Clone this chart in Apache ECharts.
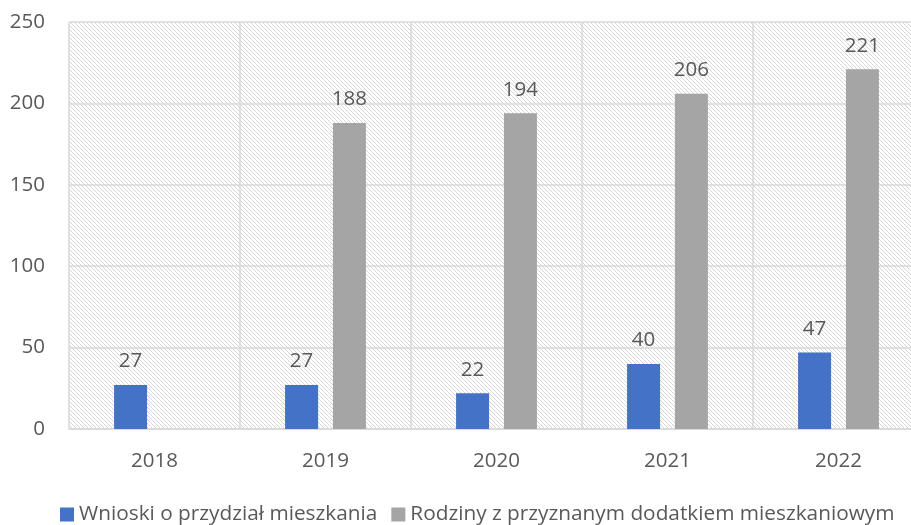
<!DOCTYPE html>
<html>
<head>
<meta charset="utf-8">
<script src="https://cdn.jsdelivr.net/npm/echarts@6/dist/echarts.min.js"></script>
<style>
  html, body { margin: 0; padding: 0; background: #fff; }
  #chart { width: 911px; height: 525px; }
</style>
</head>
<body>
<div id="chart"></div>
<script>
var years = ['2018', '2019', '2020', '2021', '2022'];
var wnioski = [27, 27, 22, 40, 47];
var rodziny = [null, 188, 194, 206, 221];
var seriesNames = ['Wnioski o przydział mieszkania', 'Rodziny z przyznanym dodatkiem mieszkaniowym'];

// hatch pattern for plot background ("\" diagonals)
var hatch = document.createElement('canvas');
hatch.width = 4;
hatch.height = 4;
var hctx = hatch.getContext('2d');
hctx.fillStyle = '#ffffff';
hctx.fillRect(0, 0, 4, 4);
hctx.fillStyle = '#d6d6d6';
for (var i = 0; i < 4; i++) {
    hctx.fillRect(i, i, 1, 1);
}

var myChart = echarts.init(document.getElementById('chart'));
var textColor = '#595959';
var fontFam = '"Open Sans", "Liberation Sans", sans-serif';
var fs = 20.5;

var option = {
    textStyle: { fontFamily: fontFam },
    color: ['#4472c4', '#a5a5a5'],
    legend: {
        top: 499,
        left: 55,
        itemWidth: 14,
        itemHeight: 14,
        itemGap: 14,
        icon: 'rect',
        textStyle: { color: textColor, fontSize: 20.8, fontFamily: fontFam },
        data: seriesNames
    },
    grid: {
        left: 69,
        width: 855,
        top: 22,
        bottom: 96,
        outerBoundsMode: 'none',
        show: true,
        borderWidth: 0,
        backgroundColor: { image: hatch, repeat: 'repeat' }
    },
    xAxis: {
        type: 'category',
        data: years,
        axisLine: { lineStyle: { color: '#d9d9d9', width: 1.5 } },
        axisTick: { show: false },
        splitLine: { show: true, lineStyle: { color: '#d9d9d9', width: 1.5 } },
        axisLabel: { color: textColor, fontSize: fs, margin: 22, fontFamily: fontFam }
    },
    yAxis: {
        type: 'value',
        min: 0,
        max: 250,
        interval: 50,
        axisLine: { show: false },
        axisTick: { show: false },
        splitLine: { lineStyle: { color: '#d9d9d9', width: 1.5 } },
        axisLabel: { color: textColor, fontSize: fs, margin: 24, fontFamily: fontFam }
    },
    series: [
        {
            name: seriesNames[0],
            type: 'bar',
            data: wnioski,
            barWidth: 33,
            barGap: '45%',
            label: { show: true, position: 'top', distance: 13, color: textColor, fontSize: fs, fontFamily: fontFam }
        },
        {
            name: seriesNames[1],
            type: 'bar',
            data: rodziny,
            barWidth: 33,
            label: { show: true, position: 'top', distance: 13, color: textColor, fontSize: fs, fontFamily: fontFam }
        }
    ]
};
myChart.setOption(option);
</script>
</body>
</html>
